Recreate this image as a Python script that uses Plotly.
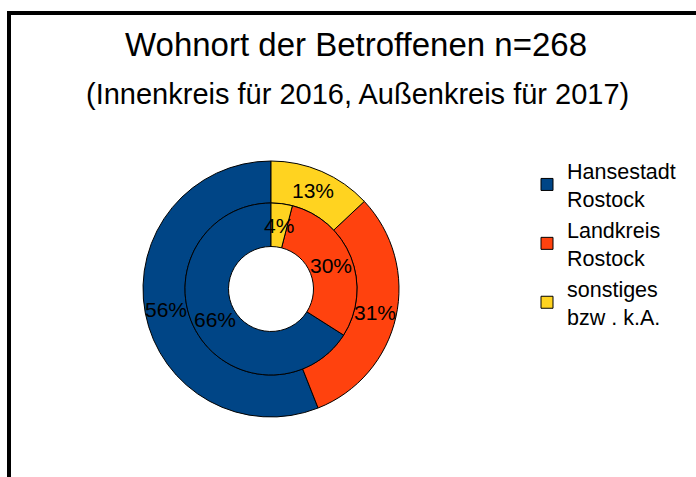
import math
import plotly.graph_objects as go

labels = ["Hansestadt<br>Rostock", "Landkreis<br>Rostock", "sonstiges<br>bzw . k.A."]
values_2017 = [56, 31, 13]   # outer ring
values_2016 = [66, 30, 4]    # inner ring
colors = ["#004586", "#ff420e", "#ffd320"]

title_text = "Wohnort der Betroffenen n=268"
subtitle_text = "(Innenkreis für 2016, Außenkreis für 2017)"

W, H = 696, 477
FONT = "Liberation Sans, Arial, sans-serif"

cx, cy = 271, 289
r_out, r_mid, r_hole = 128, 86, 42.5

def dom(r):
    return dict(x=[(cx - r) / W, (cx + r) / W],
                y=[(H - cy - r) / H, (H - cy + r) / H])

def start_rot(vals):
    # first slice ends at 12 o'clock, following slices go counterclockwise
    return 360.0 * (1 - vals[0] / sum(vals))

def slice_labels(vals, r_text):
    # percentage labels at the middle of each ring slice (counterclockwise from 12 o'clock)
    total = float(sum(vals))
    anns = []
    cum = 0.0
    for v in vals:
        phi = math.radians(360.0 * (cum + v / 2.0) / total)
        cum += v
        x = cx - r_text * math.sin(phi)
        y = cy - r_text * math.cos(phi)
        anns.append(dict(text=f"{round(100 * v / total)}%", x=x / W, y=1 - y / H,
                         xref="paper", yref="paper", showarrow=False,
                         xanchor="center", yanchor="middle",
                         font=dict(family=FONT, size=21, color="black")))
    return anns

fig = go.Figure()
fig.add_trace(go.Pie(
    labels=labels, values=values_2017, sort=False, direction="counterclockwise",
    rotation=start_rot(values_2017),
    hole=r_mid / r_out, domain=dom(r_out),
    marker=dict(colors=colors, line=dict(color="black", width=1)),
    textinfo="none",
    showlegend=True, name="2017",
))
fig.add_trace(go.Pie(
    labels=labels, values=values_2016, sort=False, direction="counterclockwise",
    rotation=start_rot(values_2016),
    hole=r_hole / r_mid, domain=dom(r_mid),
    marker=dict(colors=colors, line=dict(color="black", width=1)),
    textinfo="none",
    showlegend=False, name="2016",
))

annotations = [
    dict(text=title_text, x=356 / W, y=1 - 45 / H, xref="paper", yref="paper",
         showarrow=False, xanchor="center", yanchor="middle",
         font=dict(family=FONT, size=33, color="black")),
    dict(text=subtitle_text, x=357 / W, y=1 - 94 / H, xref="paper", yref="paper",
         showarrow=False, xanchor="center", yanchor="middle",
         font=dict(family=FONT, size=29, color="black")),
]
annotations += slice_labels(values_2017, (r_out + r_mid) / 2)
annotations += slice_labels(values_2016, (r_mid + r_hole) / 2)

fig.update_layout(
    width=W, height=H,
    margin=dict(l=0, r=0, t=0, b=0),
    paper_bgcolor="white", plot_bgcolor="white",
    font=dict(family=FONT, color="black"),
    legend=dict(x=527 / W, y=1 - 150 / H, xanchor="left", yanchor="top",
                font=dict(family=FONT, size=21.5, color="black"),
                traceorder="normal", bgcolor="rgba(0,0,0,0)"),
    annotations=annotations,
    shapes=[
        dict(type="rect", xref="paper", yref="paper",
             x0=9 / W, x1=1.2, y0=-0.2, y1=1 - 13 / H,
             line=dict(color="black", width=4), fillcolor="rgba(0,0,0,0)", layer="below"),
    ],
)

fig.write_html("out.html", config={"displayModeBar": False},
               post_script="document.body.style.margin='0';document.body.style.overflow='hidden';")
